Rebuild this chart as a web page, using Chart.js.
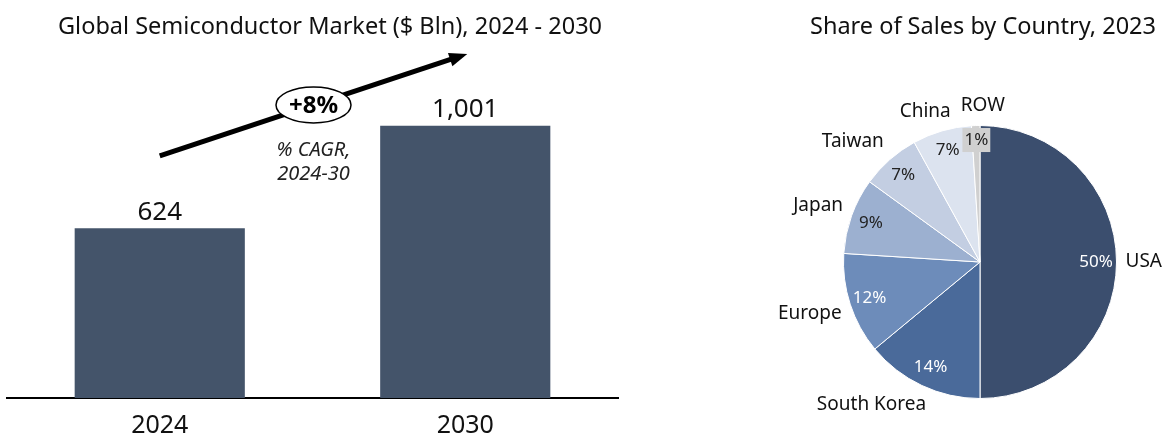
<!DOCTYPE html>
<html>
<head>
<meta charset="utf-8">
<script src="https://cdn.jsdelivr.net/npm/chart.js@4"></script>
<style>
  html, body { margin: 0; padding: 0; background: #fff; }
  body { width: 1168px; height: 437px; position: relative; overflow: hidden; }
  #barBox { position: absolute; left: 0; top: 0; width: 660px; height: 454px; }
  #pieBox { position: absolute; left: 740px; top: 0; width: 428px; height: 437px; }
</style>
</head>
<body>
<div id="barBox"><canvas id="barChart"></canvas></div>
<div id="pieBox"><canvas id="pieChart"></canvas></div>
<script>
const FONT = '"Noto Sans", sans-serif';

// market size, $ bln
const years = ['2024', '2030'];
const marketValues = [624, 1001];
const cagrLabel = '+8%';
const cagrNote = ['% CAGR,', '2024-30'];

// share of sales, 2023
const countries = ['USA', 'South Korea', 'Europe', 'Japan', 'Taiwan', 'China', 'ROW'];
const salesShare = [50, 14, 12, 9, 7, 7, 1];
const sliceColors = ['#3b4e6e', '#4a6a9a', '#6d8cba', '#9cb0d0', '#c3cee2', '#dce3ef', '#d0d0d0'];
const pctColors = ['#fff', '#fff', '#fff', '#222', '#222', '#222', '#222'];

const barLabels = {
  id: 'barLabels',
  afterDraw(chart) {
    const ctx = chart.ctx;
    const xs = chart.scales.x, ys = chart.scales.y;
    ctx.save();
    ctx.fillStyle = '#111';
    ctx.textAlign = 'center';
    ctx.textBaseline = 'middle';
    ctx.font = '23.5px ' + FONT;
    ctx.fillText('Global Semiconductor Market ($ Bln), 2024 - 2030', 330, 27);

    ctx.font = '26px ' + FONT;
    ctx.textBaseline = 'bottom';
    chart.getDatasetMeta(0).data.forEach((bar, i) => {
      ctx.fillText(marketValues[i].toLocaleString('en-US'), bar.x, bar.y - 3);
    });

    // growth arrow
    const x0 = xs.getPixelForValue(0), y0 = ys.getPixelForValue(890);
    const x1 = xs.getPixelForValue(1) + 2, y1 = ys.getPixelForValue(1265);
    const ang = Math.atan2(y1 - y0, x1 - x0);
    const head = 18;
    ctx.strokeStyle = '#000';
    ctx.lineWidth = 5;
    ctx.beginPath();
    ctx.moveTo(x0, y0);
    ctx.lineTo(x1 - head * 0.8 * Math.cos(ang), y1 - head * 0.8 * Math.sin(ang));
    ctx.stroke();
    ctx.fillStyle = '#000';
    ctx.beginPath();
    ctx.moveTo(x1, y1);
    ctx.lineTo(x1 - head * Math.cos(ang) + 7 * Math.sin(ang), y1 - head * Math.sin(ang) - 7 * Math.cos(ang));
    ctx.lineTo(x1 - head * Math.cos(ang) - 7 * Math.sin(ang), y1 - head * Math.sin(ang) + 7 * Math.cos(ang));
    ctx.closePath();
    ctx.fill();

    const mx = (x0 + x1) / 2, my = (y0 + y1) / 2;
    ctx.beginPath();
    ctx.ellipse(mx, my, 37.5, 18, 0, 0, Math.PI * 2);
    ctx.fillStyle = '#fff';
    ctx.fill();
    ctx.lineWidth = 1.5;
    ctx.stroke();
    ctx.fillStyle = '#000';
    ctx.font = 'bold 24px ' + FONT;
    ctx.textBaseline = 'middle';
    ctx.fillText(cagrLabel, mx, my + 1);
    ctx.font = 'italic 20px ' + FONT;
    ctx.fillStyle = '#222';
    cagrNote.forEach((t, i) => ctx.fillText(t, mx, my + 45 + i * 24));
    ctx.restore();
  }
};

new Chart(document.getElementById('barChart'), {
  type: 'bar',
  data: {
    labels: years,
    datasets: [{
      data: marketValues,
      backgroundColor: '#44546a',
      categoryPercentage: 1,
      barPercentage: 0.557
    }]
  },
  options: {
    responsive: true,
    maintainAspectRatio: false,
    animation: false,
    layout: { padding: { left: 7, right: 42, top: 58, bottom: 0 } },
    scales: {
      x: {
        grid: { display: false, drawTicks: false },
        border: { display: true, color: '#000', width: 2 },
        ticks: { color: '#111', font: { family: FONT, size: 25 }, padding: 13 }
      },
      y: { display: false, min: 0, max: 1250 }
    },
    plugins: {
      legend: { display: false },
      tooltip: { enabled: false }
    }
  },
  plugins: [barLabels]
});

const pieLabels = {
  id: 'pieLabels',
  afterDraw(chart) {
    const ctx = chart.ctx;
    const arcs = chart.getDatasetMeta(0).data;
    ctx.save();
    ctx.fillStyle = '#111';
    ctx.font = '23.5px ' + FONT;
    ctx.textAlign = 'center';
    ctx.textBaseline = 'middle';
    ctx.fillText('Share of Sales by Country, 2023', 243, 27);

    let prev = null;
    arcs.forEach((arc, i) => {
      const mid = (arc.startAngle + arc.endAngle) / 2;
      const cx = arc.x, cy = arc.y, r = arc.outerRadius;
      const dx = Math.cos(mid), dy = Math.sin(mid);
      // percentage inside
      const pt = salesShare[i] + '%';
      ctx.font = '17px ' + FONT;
      const px = cx + dx * r * 0.85, py = cy + dy * r * 0.85;
      if (i === arcs.length - 1) {
        const w = ctx.measureText(pt).width + 4;
        ctx.fillStyle = sliceColors[i];
        ctx.fillRect(px - w / 2, py - 18, w, 24);
        ctx.fillStyle = pctColors[i];
        ctx.fillText(pt, px, py - 6);
      } else {
        ctx.fillStyle = pctColors[i];
        ctx.fillText(pt, px, py);
      }
      // name outside
      ctx.font = '19px ' + FONT;
      ctx.fillStyle = '#111';
      const name = countries[i];
      const w = ctx.measureText(name).width, h = 22;
      const ox = cx + dx * (r + 9), oy = cy + dy * (r + 9);
      const fx = 0.5 - 0.5 * Math.max(-1, Math.min(1, dx * 2));
      const fy = 0.5 - 0.5 * Math.max(-1, Math.min(1, dy * 2));
      let left = ox - fx * w;
      const top = oy - fy * h;
      // keep a gap from the previous label on the same row
      if (prev && Math.abs(prev.top - top) < h && left < prev.right + 10 && left > prev.left) {
        left = prev.right + 10;
      }
      ctx.textAlign = 'left';
      ctx.fillText(name, left, top + h / 2);
      ctx.textAlign = 'center';
      prev = { left, right: left + w, top };
    });
    ctx.restore();
  }
};

new Chart(document.getElementById('pieChart'), {
  type: 'pie',
  data: {
    labels: countries,
    datasets: [{
      data: salesShare,
      backgroundColor: sliceColors,
      borderColor: '#fff',
      borderWidth: 1
    }]
  },
  options: {
    responsive: true,
    maintainAspectRatio: false,
    animation: false,
    layout: { padding: { left: 103, right: 51, top: 125, bottom: 38 } },
    plugins: {
      legend: { display: false },
      tooltip: { enabled: false }
    }
  },
  plugins: [pieLabels]
});
</script>
</body>
</html>
